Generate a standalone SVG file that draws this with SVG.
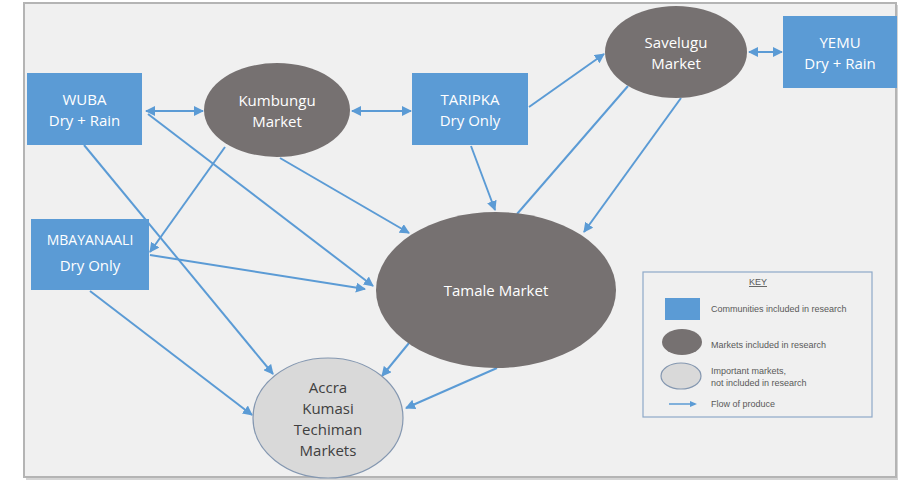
<svg xmlns="http://www.w3.org/2000/svg" width="900" height="480" viewBox="0 0 900 480">
<defs>
<marker id="ah" viewBox="0 0 10 10" refX="9" refY="5" markerWidth="10" markerHeight="10" markerUnits="userSpaceOnUse" orient="auto-start-reverse">
<path d="M0,0 L10,5 L0,10 z" fill="#5b9bd5"/>
</marker>
</defs>
<style>
.frame{fill:#f0f0f0;stroke:#b4b4b4;stroke-width:2}
.comm{fill:#5b9bd5}
.mkt{fill:#767171}
.ext{fill:#d9d9d9;stroke:#8497b0;stroke-width:1.2}
.wt{font-family:"Open Sans","Liberation Sans",sans-serif;font-size:15px;fill:#ffffff;text-anchor:middle}
.dt{font-family:"Open Sans","Liberation Sans",sans-serif;font-size:15px;fill:#404040;text-anchor:middle}
.c{stroke:#5b9bd5;stroke-width:2;fill:none}
.k{font-family:"Liberation Sans",sans-serif;font-size:9px;fill:#595959}
</style>
<rect width="900" height="480" fill="#ffffff"/>
<rect x="26" y="5" width="872" height="475" fill="#d4d4d4"/>
<rect class="frame" x="24" y="3" width="872" height="474"/>

<g id="connectors">
<line class="c" x1="146" y1="111" x2="203" y2="111" marker-start="url(#ah)" marker-end="url(#ah)"/>
<line class="c" x1="352" y1="111" x2="411" y2="111" marker-start="url(#ah)" marker-end="url(#ah)"/>
<line class="c" x1="529" y1="107" x2="604" y2="54" marker-end="url(#ah)"/>
<line class="c" x1="749" y1="52" x2="782" y2="52" marker-start="url(#ah)" marker-end="url(#ah)"/>
<line class="c" x1="471" y1="146" x2="495" y2="210" marker-end="url(#ah)"/>
<line class="c" x1="517" y1="214" x2="628" y2="86"/>
<line class="c" x1="681" y1="98" x2="584" y2="232" marker-end="url(#ah)"/>
<line class="c" x1="148" y1="114" x2="373" y2="286" marker-end="url(#ah)"/>
<line class="c" x1="84" y1="145" x2="273" y2="374" marker-end="url(#ah)"/>
<line class="c" x1="225" y1="147" x2="150" y2="252" marker-end="url(#ah)"/>
<line class="c" x1="280" y1="158" x2="409" y2="233" marker-end="url(#ah)"/>
<line class="c" x1="150" y1="255" x2="365" y2="289" marker-end="url(#ah)"/>
<line class="c" x1="90" y1="291" x2="252" y2="415" marker-end="url(#ah)"/>
<line class="c" x1="409" y1="343" x2="382" y2="376" marker-end="url(#ah)"/>
<line class="c" x1="497" y1="368" x2="406" y2="408" marker-end="url(#ah)"/>
</g>

<g id="wuba">
<rect class="comm" x="27" y="73" width="115" height="72"/>
<text class="wt" x="84.5" y="105">WUBA</text>
<text class="wt" x="84.5" y="126">Dry + Rain</text>
</g>
<g id="kumbungu">
<ellipse class="mkt" cx="277" cy="110" rx="73" ry="47"/>
<text class="wt" x="277" y="106">Kumbungu</text>
<text class="wt" x="277" y="127">Market</text>
</g>
<g id="taripka">
<rect class="comm" x="412" y="73" width="116" height="72"/>
<text class="wt" x="470" y="105">TARIPKA</text>
<text class="wt" x="470" y="126">Dry Only</text>
</g>
<g id="savelugu">
<ellipse class="mkt" cx="676" cy="52" rx="71" ry="46"/>
<text class="wt" x="676" y="48">Savelugu</text>
<text class="wt" x="676" y="69">Market</text>
</g>
<g id="yemu">
<rect class="comm" x="783" y="16" width="114" height="72"/>
<text class="wt" x="840" y="48">YEMU</text>
<text class="wt" x="840" y="69">Dry + Rain</text>
</g>
<g id="mbayanaali">
<rect class="comm" x="31" y="219" width="118" height="71"/>
<text class="wt" x="90" y="245" style="font-size:14px">MBAYANAALI</text>
<text class="wt" x="90" y="271">Dry Only</text>
</g>
<g id="tamale">
<ellipse class="mkt" cx="496" cy="290" rx="120" ry="78"/>
<text class="wt" x="496" y="296">Tamale Market</text>
</g>
<g id="accra">
<ellipse class="ext" cx="328" cy="418" rx="75" ry="60"/>
<text class="dt" x="328" y="393">Accra</text>
<text class="dt" x="328" y="414">Kumasi</text>
<text class="dt" x="328" y="435">Techiman</text>
<text class="dt" x="328" y="456">Markets</text>
</g>

<g id="key">
<rect x="643" y="272" width="229" height="145" fill="#f0f0f0" stroke="#8ea9c8" stroke-width="1.2"/>
<text class="k" x="758" y="285" text-anchor="middle" text-decoration="underline">KEY</text>
<rect class="comm" x="665" y="298" width="35" height="22"/>
<text class="k" x="711" y="312">Communities included in research</text>
<ellipse class="mkt" cx="682" cy="342" rx="20" ry="13"/>
<text class="k" x="711" y="348">Markets included in research</text>
<ellipse class="ext" cx="681" cy="376" rx="20" ry="13"/>
<text class="k" x="711" y="374">Important markets,</text>
<text class="k" x="711" y="386">not  included in research</text>
<line x1="669" y1="404" x2="695" y2="404" stroke="#5b9bd5" stroke-width="1.5"/>
<path d="M690,401 L697,404 L690,407 z" fill="#5b9bd5"/>
<text class="k" x="711" y="407">Flow of produce</text>
</g>
</svg>
